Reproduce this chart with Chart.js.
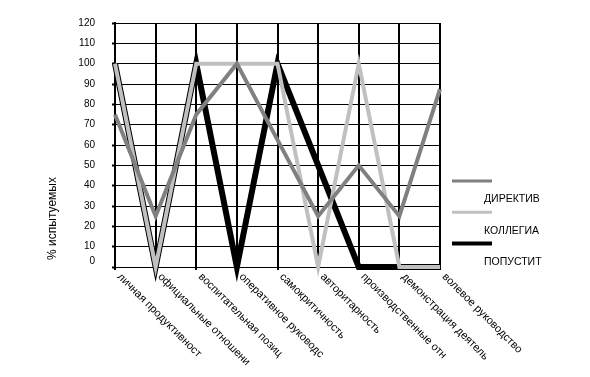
<!DOCTYPE html>
<html>
<head>
<meta charset="utf-8">
<script src="https://cdn.jsdelivr.net/npm/chart.js@4/dist/chart.umd.min.js"></script>
<style>
html,body{margin:0;padding:0;background:#fff;}
canvas{display:block;}
</style>
</head>
<body>
<canvas id="c" width="590" height="377"></canvas>
<script>
// ---- data ----
const categories = [
  'личная продуктивност',
  'официальные отношени',
  'воспитательная позиц',
  'оперативное руководс',
  'самокритичность',
  'авторитарность',
  'производственные отн',
  'демонстрация деятель',
  'волевое руководство'
];
const seriesNames = ['ДИРЕКТИВ', 'КОЛЛЕГИА', 'ПОПУСТИТ'];
const direktiv = [75, 25, 75, 100, 62.5, 25, 50, 25, 87.5];
const kollegia = [100, 0, 100, 100, 100, 0, 100, 0, 0];
const popustit = [100, 0, 100, 0, 100, 50, 0, 0, 0];
const yMin = 0, yMax = 120, yStep = 10;
const yTitle = '% испытуемых';

// ---- styles ----
const FONT_FAMILY = '"Liberation Sans", Arial, sans-serif';
const colors = ['#808080', '#c0c0c0', '#000000'];
const lineWidths = [4, 4, 6];
const legendWidths = [3, 3, 4];

const extras = {
  id: 'extras',
  afterDraw(chart) {
    const ctx = chart.ctx, xs = chart.scales.x, ys = chart.scales.y;
    ctx.save();
    ctx.fillStyle = '#000';
    // rotated category labels
    ctx.font = '11px ' + FONT_FAMILY;
    ctx.textAlign = 'left';
    ctx.textBaseline = 'middle';
    categories.forEach((c, i) => {
      const x = xs.getPixelForValue(i);
      ctx.save();
      ctx.translate(x + 4, ys.bottom + 8);
      ctx.rotate(Math.PI / 4);
      ctx.fillText(c, 0, 0);
      ctx.restore();
    });
    // y axis title
    ctx.font = '12px ' + FONT_FAMILY;
    ctx.save();
    ctx.translate(53, 218.5);
    ctx.rotate(-Math.PI / 2);
    ctx.textAlign = 'center';
    ctx.fillText(yTitle, 0, 0);
    ctx.restore();
    // legend
    ctx.font = '10.5px ' + FONT_FAMILY;
    chart.data.datasets.forEach((ds, i) => {
      const y = 181 + i * 31.2;
      ctx.strokeStyle = ds.borderColor;
      ctx.lineWidth = legendWidths[i];
      ctx.beginPath();
      ctx.moveTo(452, y);
      ctx.lineTo(492, y);
      ctx.stroke();
      ctx.textAlign = 'left';
      ctx.textBaseline = 'middle';
      ctx.fillText(ds.label, 484, y + 18.5);
    });
    ctx.restore();
  }
};

const seriesData = [direktiv, kollegia, popustit];
new Chart(document.getElementById('c'), {
  type: 'line',
  data: {
    labels: categories,
    datasets: seriesNames.map((n, i) => ({
      label: n,
      data: seriesData[i],
      borderColor: colors[i],
      backgroundColor: colors[i],
      borderWidth: lineWidths[i],
      pointRadius: 0,
      pointHoverRadius: 0,
      tension: 0,
      fill: false,
      clip: false,
      borderJoinStyle: 'miter',
      borderCapStyle: 'butt'
    }))
  },
  options: {
    responsive: false,
    devicePixelRatio: 1,
    animation: false,
    events: [],
    layout: { autoPadding: false, padding: { top: 19, right: 150, bottom: 0, left: 0 } },
    plugins: { legend: { display: false }, tooltip: { enabled: false }, title: { display: false } },
    scales: {
      x: {
        type: 'category',
        offset: false,
        grid: { color: '#000', lineWidth: 2, tickLength: 3, drawTicks: true },
        border: { display: true, color: '#000', width: 1 },
        ticks: { display: false },
        afterFit(s) { s.height = 110; }
      },
      y: {
        min: yMin, max: yMax,
        grid: { color: '#000', lineWidth: 1, tickLength: 3, tickWidth: 2 },
        border: { display: true, color: '#000', width: 2 },
        ticks: {
          stepSize: yStep,
          autoSkip: false,
          padding: 17,
          color: '#000',
          font: { family: FONT_FAMILY, size: 10 },
          callback: v => v === 0 ? ['0', ''] : String(v)
        },
        afterFit(s) { s.width = 115; }
      }
    }
  },
  plugins: [extras]
});
</script>
</body>
</html>
